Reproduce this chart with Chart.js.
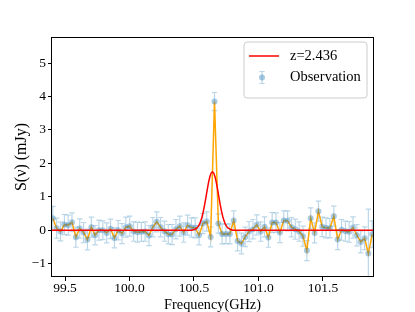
<!DOCTYPE html>
<html><head><meta charset="utf-8">
<script src="https://cdn.jsdelivr.net/npm/chart.js@4.4.0/dist/chart.umd.min.js"></script>
<style>html,body{margin:0;padding:0;background:#fff;}</style>
</head><body>
<canvas id="c" width="415" height="312"></canvas>
<script>
const freq = [99.405,99.435,99.465,99.495,99.524,99.554,99.584,99.614,99.644,99.674,
99.704,99.733,99.763,99.793,99.823,99.853,99.883,99.912,99.942,99.972,
100.002,100.032,100.062,100.092,100.121,100.151,100.181,100.211,100.241,100.271,
100.301,100.330,100.360,100.390,100.420,100.450,100.480,100.509,100.539,100.569,
100.599,100.629,100.659,100.689,100.718,100.748,100.778,100.808,100.838,100.868,
100.897,100.927,100.957,100.987,101.017,101.047,101.077,101.106,101.136,101.166,
101.196,101.226,101.256,101.285,101.315,101.345,101.375,101.405,101.435,101.465,
101.494,101.524,101.554,101.584,101.614,101.644,101.674,101.703,101.733,101.763,
101.793,101.823,101.852,101.882];
const flux = [0.36,0.06,-0.04,0.17,0.15,0.24,-0.21,0.05,-0.07,-0.28,
0.09,-0.15,0.00,0.00,-0.08,0.04,-0.23,0.00,-0.10,0.09,
0.12,-0.04,-0.06,-0.05,-0.04,-0.16,0.09,0.25,0.09,-0.03,
-0.12,-0.13,0.03,0.12,-0.07,0.15,0.08,0.07,-0.15,0.20,
0.26,-0.20,3.85,0.20,-0.11,-0.11,-0.11,0.29,-0.32,-0.40,
-0.20,-0.04,0.03,0.16,-0.04,0.10,-0.22,0.23,0.23,-0.07,
0.29,0.28,0.09,0.03,-0.04,-0.18,-0.61,0.36,-0.08,0.57,
0.10,0.07,0.06,0.42,-0.28,0.01,-0.03,-0.05,0.08,-0.15,
-0.35,-0.24,-0.70,-0.12];
const fluxErr = [0.35,0.30,0.28,0.30,0.30,0.28,0.30,0.29,0.30,0.31,
0.30,0.29,0.30,0.28,0.30,0.29,0.30,0.29,0.30,0.30,
0.30,0.29,0.30,0.28,0.29,0.30,0.29,0.30,0.29,0.30,
0.29,0.30,0.29,0.30,0.29,0.30,0.29,0.30,0.29,0.30,
0.29,0.30,0.27,0.29,0.30,0.29,0.30,0.29,0.30,0.31,
0.29,0.30,0.29,0.30,0.29,0.30,0.29,0.30,0.29,0.30,
0.29,0.30,0.29,0.30,0.29,0.30,0.30,0.31,0.30,0.30,
0.29,0.30,0.29,0.30,0.30,0.31,0.30,0.31,0.32,0.32,
0.33,0.34,1.33,0.40];
const modelFreq = [99.38,100.483,100.503,100.523,100.533,100.543,100.553,100.563,100.573,100.583,
100.593,100.603,100.613,100.623,100.633,100.643,100.653,100.663,100.673,100.683,
100.693,100.703,100.713,100.723,100.733,100.743,100.753,100.763,100.783,100.803,101.90];
const modelFlux = [0,0,0.02,0.067,0.113,0.18,0.28,0.41,0.58,0.77,
0.99,1.22,1.43,1.60,1.71,1.75,1.71,1.60,1.43,1.22,
0.99,0.77,0.58,0.41,0.28,0.18,0.113,0.067,0.02,0,0];
const xTicks = [99.5,100.0,100.5,101.0,101.5];
const yTicks = [-1,0,1,2,3,4,5];
const seriesLabels = ['z=2.436','Observation'];

const FONT = "'Liberation Serif','Times New Roman',serif";
const obs = freq.map((f,i)=>({x:f,y:flux[i]}));
const model = modelFreq.map((f,i)=>({x:f,y:modelFlux[i]}));
const ERR_COLOR = 'rgba(31,119,180,0.3)';
const PT_COLOR = 'rgba(31,119,180,0.38)';

const errorBars = {
  id:'errorBars',
  beforeDatasetsDraw(chart){
    const {ctx, chartArea:a, scales:{x,y}} = chart;
    ctx.save();
    ctx.beginPath(); ctx.rect(a.left,a.top,a.right-a.left,a.bottom-a.top); ctx.clip();
    ctx.strokeStyle = ERR_COLOR; ctx.lineWidth = 1.2;
    freq.forEach((f,i)=>{
      const px = x.getPixelForValue(f);
      const yt = y.getPixelForValue(flux[i]+fluxErr[i]);
      const yb = y.getPixelForValue(flux[i]-fluxErr[i]);
      ctx.beginPath();
      ctx.moveTo(px,yt); ctx.lineTo(px,yb);
      ctx.moveTo(px-2.7,yt); ctx.lineTo(px+2.7,yt);
      ctx.moveTo(px-2.7,yb); ctx.lineTo(px+2.7,yb);
      ctx.stroke();
    });
    ctx.restore();
  }
};

const frameLegend = {
  id:'frameLegend',
  afterDraw(chart){
    const {ctx, chartArea:a} = chart;
    ctx.save();
    ctx.strokeStyle = '#000'; ctx.lineWidth = 1;
    ctx.strokeRect(Math.round(a.left)-0.5, Math.round(a.top)+0.5, Math.round(a.right-a.left)+1, Math.round(a.bottom-a.top)-1);
    const bx=244, by=42, bw=123, bh=56, r=3;
    ctx.beginPath();
    ctx.moveTo(bx+r,by); ctx.lineTo(bx+bw-r,by); ctx.quadraticCurveTo(bx+bw,by,bx+bw,by+r);
    ctx.lineTo(bx+bw,by+bh-r); ctx.quadraticCurveTo(bx+bw,by+bh,bx+bw-r,by+bh);
    ctx.lineTo(bx+r,by+bh); ctx.quadraticCurveTo(bx,by+bh,bx,by+bh-r);
    ctx.lineTo(bx,by+r); ctx.quadraticCurveTo(bx,by,bx+r,by);
    ctx.closePath();
    ctx.fillStyle='rgba(255,255,255,0.8)'; ctx.fill();
    ctx.strokeStyle='#cccccc'; ctx.lineWidth=1; ctx.stroke();
    ctx.strokeStyle='#ff0000'; ctx.lineWidth=1.5;
    ctx.beginPath(); ctx.moveTo(249,56); ctx.lineTo(279,56); ctx.stroke();
    ctx.strokeStyle=ERR_COLOR; ctx.lineWidth=1.2;
    ctx.beginPath();
    ctx.moveTo(262,71.5); ctx.lineTo(262,83.5);
    ctx.moveTo(259.3,71.5); ctx.lineTo(264.7,71.5);
    ctx.moveTo(259.3,83.5); ctx.lineTo(264.7,83.5);
    ctx.stroke();
    ctx.fillStyle=PT_COLOR; ctx.beginPath(); ctx.arc(262,77.5,3,0,Math.PI*2); ctx.fill();
    ctx.fillStyle='#000'; ctx.font='14.5px '+FONT; ctx.textBaseline='middle'; ctx.textAlign='left';
    ctx.fillText(seriesLabels[0],290,56.5);
    ctx.fillText(seriesLabels[1],290,77.5);
    ctx.restore();
  }
};

new Chart(document.getElementById('c'), {
  type:'scatter',
  data:{datasets:[
    {label:seriesLabels[0], data:model, showLine:true, borderColor:'#ff0000', borderWidth:1.5, pointRadius:0, order:0},
    {label:seriesLabels[1], data:obs, showLine:false, pointRadius:3, pointBackgroundColor:PT_COLOR, pointBorderWidth:0, pointBorderColor:'rgba(0,0,0,0)', order:1},
    {label:'connect', data:obs, showLine:true, borderColor:'#ffa500', borderWidth:1.5, pointRadius:0, order:2}
  ]},
  options:{
    responsive:false, animation:false, devicePixelRatio:1,
    layout:{padding:{left:0,right:42,top:37,bottom:0}},
    plugins:{legend:{display:false}, tooltip:{enabled:false}},
    scales:{
      x:{type:'linear', min:99.399, max:101.888,
        afterFit(s){s.height=35;},
        afterBuildTicks(s){s.ticks=xTicks.map(v=>({value:v}));},
        ticks:{callback:v=>Number(v).toFixed(1), color:'#000', font:{family:FONT,size:13.5}, padding:-1, maxRotation:0, autoSkip:false},
        grid:{display:true, drawOnChartArea:false, drawTicks:true, tickLength:4, color:'#000', tickWidth:1},
        border:{display:false},
        title:{display:true, text:'Frequency(GHz)', color:'#000', font:{family:FONT,size:14.3,lineHeight:1.0}, padding:{top:0,bottom:0}}
      },
      y:{type:'linear', min:-1.40, max:5.78,
        afterFit(s){s.width=52;},
        afterBuildTicks(s){s.ticks=yTicks.map(v=>({value:v}));},
        ticks:{callback:v=>(v<0?'\u2212'+Math.abs(v):String(v)), color:'#000', font:{family:FONT,size:13.5}, padding:2, autoSkip:false},
        grid:{display:true, drawOnChartArea:false, drawTicks:true, tickLength:4, color:'#000', tickWidth:1},
        border:{display:false},
        title:{display:true, text:'S(\u03bd) (mJy)', color:'#000', font:{family:FONT,size:16,lineHeight:1.0}, padding:{top:14,bottom:0}}
      }
    }
  },
  plugins:[errorBars, frameLegend]
});
</script>
</body></html>
